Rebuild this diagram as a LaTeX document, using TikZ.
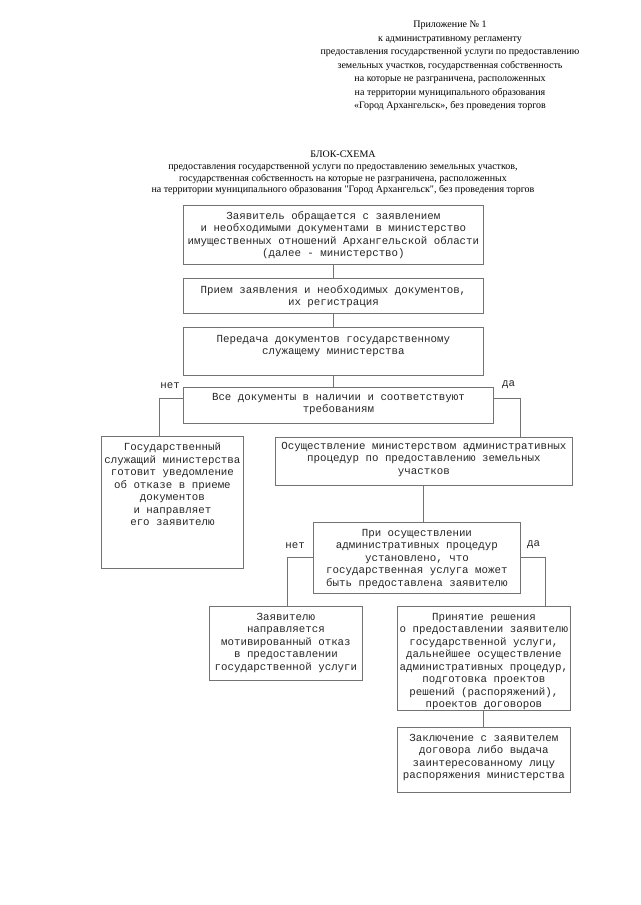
\documentclass[tikz,border=0pt]{standalone}
\usepackage{fontspec}
\setmainfont{Liberation Serif}[Ligatures=TeXOff]
\setmonofont{Liberation Mono}
\usetikzlibrary{positioning}

\begin{document}
\begin{tikzpicture}[
   x=1pt,y=-1pt,
   box/.style={draw=black!55,line width=0.8pt,inner sep=0pt,anchor=north west},
   txt/.style={inner sep=0pt,align=center,text=black!85,font=\fontsize{10.8}{12.5}\selectfont\ttfamily},
   lbl/.style={inner sep=0pt,text=black!85,font=\fontsize{10.8}{12.5}\selectfont\ttfamily},
   link/.style={draw=black!55,line width=0.8pt}
  ]
  \useasboundingbox (0,0) rectangle (640,905);

  % header
  \node[anchor=north,align=center,inner sep=0pt,font=\fontsize{10}{13.5}\selectfont] (app) at (450,21)
    {Приложение № 1\\ к административному регламенту\\
     предоставления государственной услуги по предоставлению\\
     земельных участков, государственная собственность\\
     на которые не разграничена, расположенных\\
     на территории муниципального образования\\
     «Город Архангельск», без проведения торгов};
  \node[anchor=north,align=center,inner sep=0pt,font=\fontsize{10}{11.7}\selectfont] (title) at (343,151)
    {БЛОК-СХЕМА\\
     предоставления государственной услуги по предоставлению земельных участков,\\
     государственная собственность на которые не разграничена, расположенных\\
     на территории муниципального образования "Город Архангельск", без проведения торгов};

  % boxes
  \node[box,minimum width=300,minimum height=59] (b1) at (183,205) {};
  \node[box,minimum width=300,minimum height=35] (b2) at (183,278) {};
  \node[box,minimum width=300,minimum height=48] (b3) at (183,327) {};
  \node[box,minimum width=310,minimum height=36] (dec1) at (183,387) {};
  \node[box,minimum width=142,minimum height=132] (fail) at (101,436) {};
  \node[box,minimum width=297,minimum height=48] (proc) at (275,437) {};
  \node[box,minimum width=207,minimum height=71] (dec2) at (313,522) {};
  \node[box,minimum width=153,minimum height=74] (refuse) at (209,606) {};
  \node[box,minimum width=173,minimum height=104] (accept) at (397,606) {};
  \node[box,minimum width=173,minimum height=65] (contract) at (397,727) {};

  % texts
  \node[txt,below=6pt of b1.north] (t1) {Заявитель обращается с заявлением\\
    и необходимыми документами в министерство\\
    имущественных отношений Архангельской области\\ (далее - министерство)};
  \node[txt,below=7pt of b2.north] (t2) {Прием заявления и необходимых документов,\\ их регистрация};
  \node[txt,below=8pt of b3.north] (t3) {Передача документов государственному\\ служащему министерства};
  \node[txt,below=6pt of dec1.north] (t4) {Все документы в наличии и соответствуют\\ требованиям};
  \node[txt,below=7pt of fail.north] (t5) {Государственный\\ служащий министерства\\ готовит уведомление\\
    об отказе в приеме\\ документов\\ и направляет\\ его заявителю};
  \node[txt,below=5pt of proc.north] (t6) {Осуществление министерством административных\\
    процедур по предоставлению земельных\\ участков};
  \node[txt,below=7pt of dec2.north] (t7) {При осуществлении\\ административных процедур\\
    установлено, что\\ государственная услуга может\\ быть предоставлена заявителю};
  \node[txt,below=7pt of refuse.north] (t8) {Заявителю\\ направляется\\ мотивированный отказ\\
    в предоставлении\\ государственной услуги};
  \node[txt,below=7pt of accept.north] (t9) {Принятие решения\\ о предоставлении заявителю\\
    государственной услуги,\\ дальнейшее осуществление\\ административных процедур,\\
    подготовка проектов\\ решений (распоряжений),\\ проектов договоров};
  \node[txt,below=7pt of contract.north] (t10) {Заключение с заявителем\\ договора либо выдача\\
    заинтересованному лицу\\ распоряжения министерства};

  % branch points
  \coordinate (noA)  at (159,398);
  \coordinate (yesA) at (520,398);
  \coordinate (noB)  at (287,557);
  \coordinate (yesB) at (545,557);

  \node[lbl,anchor=south east] (nA) at (180,389) {нет};
  \node[lbl,anchor=south west] (yA) at (502,389) {да};
  \node[lbl,anchor=south east] (nB) at (305,549) {нет};
  \node[lbl,anchor=south west] (yB) at (527,549) {да};

  % connectors
  \draw[link] (b1.south) -- (b2.north);
  \draw[link] (b2.south) -- (b3.north);
  \draw[link] (b3.south) -- (b3.south |- dec1.north);
  \draw[link] (dec1.west |- noA) -- (noA) -- (noA |- fail.north);
  \draw[link] (dec1.east |- yesA) -- (yesA) -- (yesA |- proc.north);
  \draw[link] ([xshift=-0.5pt]proc.south) -- ([xshift=-0.5pt]proc.south |- dec2.north);
  \draw[link] (dec2.west |- noB) -- (noB) -- (noB |- refuse.north);
  \draw[link] (dec2.east |- yesB) -- (yesB) -- (yesB |- accept.north);
  \draw[link] ([xshift=-0.5pt]accept.south) -- ([xshift=-0.5pt]contract.north);
\end{tikzpicture}
\end{document}
